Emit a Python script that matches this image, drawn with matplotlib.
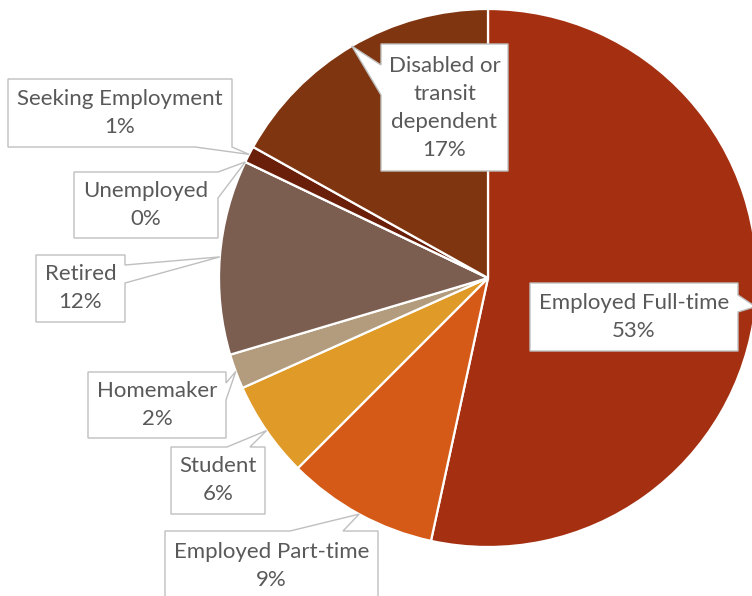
import numpy as np
import matplotlib.pyplot as plt
from matplotlib.patches import Polygon

# Employment status breakdown (percent), clockwise from 12 o'clock
categories = ['Employed Full-time', 'Employed Part-time', 'Student', 'Homemaker',
              'Retired', 'Unemployed', 'Seeking Employment',
              'Disabled or\ntransit\ndependent']
shares = [53.4, 9.1, 5.8, 2.1, 11.7, 0.0, 1.0, 16.9]
pct_labels = ['53%', '9%', '6%', '2%', '12%', '0%', '1%', '17%']
colors = ['#A43011', '#D55A17', '#E09A28', '#B39C7D',
          '#7C5E51', '#8A3A12', '#6A1F0B', '#7F3510']

W, H = 752, 596
fig = plt.figure(figsize=(W / 100, H / 100), dpi=100)
ax = fig.add_axes([0, 0, 1, 1])

cx, cy, r = 488, H - 278, 269
wedges, _ = ax.pie(shares, colors=colors, startangle=90, counterclock=False,
                   center=(cx, cy), radius=r, frame=True,
                   wedgeprops=dict(edgecolor='white', linewidth=1.6))
ax.set_xlim(0, W)
ax.set_ylim(0, H)
ax.set_aspect('equal')
ax.axis('off')

# label boxes in pixel coords from top-left: (x0, y0, x1, y1), side of pointer, pointer base span
boxes = [
    ((530, 283, 738, 351), 'right', (295, 312)),
    ((165, 531, 378, 600), 'top', (290, 343)),
    ((171, 447, 265, 514), 'top', (227, 250)),
    ((88, 372, 226, 438), 'right', (383, 400)),
    ((36, 255, 125, 322), 'right', (265, 283)),
    ((74, 172, 218, 238), 'right', (172, 198)),
    ((8, 79, 232, 147), 'bottom', (195, 232)),
    ((381, 44, 508, 171), 'left', (65, 95)),
]

for w, name, pct, (box, side, base) in zip(wedges, categories, pct_labels, boxes):
    # pointer tip sits on the rim at the wedge's middle angle
    mid = np.deg2rad((w.theta1 + w.theta2) / 2)
    tip = (cx + r * np.cos(mid), cy + r * np.sin(mid))
    x0, y0, x1, y1 = box
    y0, y1 = H - y0, H - y1
    a, b = base
    if side == 'right':
        pts = [(x0, y0), (x1, y0), (x1, H - a), tip, (x1, H - b), (x1, y1), (x0, y1)]
    elif side == 'left':
        pts = [(x0, y0), (x1, y0), (x1, y1), (x0, y1), (x0, H - b), tip, (x0, H - a)]
    elif side == 'top':
        pts = [(x0, y0), (a, y0), tip, (b, y0), (x1, y0), (x1, y1), (x0, y1)]
    else:
        pts = [(x0, y0), (x1, y0), (x1, y1), (b, y1), tip, (a, y1), (x0, y1)]
    ax.add_patch(Polygon(pts, closed=True, facecolor='white', edgecolor='#BFBFBF',
                         linewidth=1.0, zorder=5, clip_on=False))
    ax.text((x0 + x1) / 2, (y0 + y1) / 2, name + '\n' + pct,
            ha='center', va='center', fontsize=16,
            family=['Lato', 'DejaVu Sans'], color='#595959', linespacing=1.5, zorder=6)

fig.savefig('out.png', dpi=100)
